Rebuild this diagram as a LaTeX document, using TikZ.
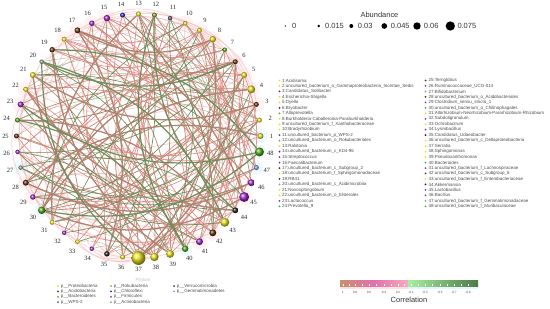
\documentclass[tikz,border=0pt]{standalone}
\usepackage{fontspec}
\setmainfont{Liberation Serif}
\newfontfamily\legfont{Liberation Sans}
\usetikzlibrary{positioning}
\pgfdeclarelayer{background}
\pgfsetlayers{background,main}
\definecolor{cProteo}{HTML}{E8E21E}
\definecolor{cAcido}{HTML}{5A2C0C}
\definecolor{cBacte}{HTML}{4EAA18}
\definecolor{cWps}{HTML}{4C5878}
\definecolor{cRoku}{HTML}{8E9628}
\definecolor{cChloro}{HTML}{2A1EC8}
\definecolor{cFirmi}{HTML}{9A28C8}
\definecolor{cActino}{HTML}{86A086}
\definecolor{cVerru}{HTML}{1E1A14}
\definecolor{cGemma}{HTML}{6E9ED8}
\definecolor{eBrown}{HTML}{C4907C}
\definecolor{eSalmon}{HTML}{EC8C8C}
\definecolor{ePink}{HTML}{F4BCBC}
\definecolor{eGreen}{HTML}{6E8C5A}
\definecolor{eGrey}{HTML}{AAB89C}
\tikzset{otu/.style={circle, inner sep=0pt, shading=ball},
         proteo/.style={otu, ball color=cProteo},
         acido/.style={otu, ball color=cAcido},
         bacte/.style={otu, ball color=cBacte},
         wps/.style={otu, ball color=cWps},
         roku/.style={otu, ball color=cRoku},
         chloro/.style={otu, ball color=cChloro},
         firmi/.style={otu, ball color=cFirmi},
         actino/.style={otu, ball color=cActino},
         verru/.style={otu, ball color=cVerru},
         gemma/.style={otu, ball color=cGemma},
         numlbl/.style={font=\fontsize{6.5}{7}\selectfont, text=black!85, inner sep=0pt},
         leg/.style={font=\legfont\fontsize{4.5}{5}\selectfont, text=black!70, anchor=west, inner sep=0pt},
         legdot/.style={circle, inner sep=0pt, minimum size=2pt},
         absdot/.style={circle, fill=black, inner sep=0pt},
         abstxt/.style={font=\legfont\fontsize{7.5}{8}\selectfont, text=black!80, anchor=west, inner sep=0pt},
         ticktxt/.style={font=\legfont\fontsize{3.2}{4}\selectfont, text=black!70, inner sep=0pt},
         ebrown/.style={draw=eBrown, line width=0.8},
         ebrownthick/.style={draw=eBrown!90!black, line width=1.3},
         esalmon/.style={draw=eSalmon, line width=0.7},
         epink/.style={draw=ePink, line width=0.9, opacity=0.6},
         egreen/.style={draw=eGreen, line width=0.65},
         egreenthick/.style={draw=eGreen, line width=1.2},
         egrey/.style={draw=eGrey, line width=0.45}}
\begin{document}
\begin{tikzpicture}[x=1bp, y=1bp]
\useasboundingbox (0,0) rectangle (550,308);

\begin{scope}[shift={(138.5,172)}]
\coordinate (ctr) at (0,0);
\node[proteo, minimum size=6] (n1) at (0:122) {};
\node[proteo, minimum size=5] (n2) at (7.5:122) {};
\node[acido, minimum size=5] (n3) at (15:122) {};
\node[proteo, minimum size=8] (n4) at (22.5:122) {};
\node[proteo, minimum size=6] (n5) at (30:122) {};
\node[acido, minimum size=5] (n6) at (37.5:122) {};
\node[bacte, minimum size=4.5] (n7) at (45:122) {};
\node[proteo, minimum size=6.5] (n8) at (52.5:122) {};
\node[proteo, minimum size=5] (n9) at (60:122) {};
\node[proteo, minimum size=4.5] (n10) at (67.5:122) {};
\node[wps, minimum size=4.5] (n11) at (75:122) {};
\node[roku, minimum size=5] (n12) at (82.5:122) {};
\node[proteo, minimum size=5] (n13) at (90:122) {};
\node[chloro, minimum size=5] (n14) at (97.5:122) {};
\node[firmi, minimum size=6.5] (n15) at (105:122) {};
\node[firmi, minimum size=5.5] (n16) at (112.5:122) {};
\node[acido, minimum size=6] (n17) at (120:122) {};
\node[proteo, minimum size=5] (n18) at (127.5:122) {};
\node[acido, minimum size=5.5] (n19) at (135:122) {};
\node[actino, minimum size=4.5] (n20) at (142.5:122) {};
\node[proteo, minimum size=6] (n21) at (150:122) {};
\node[proteo, minimum size=5] (n22) at (157.5:122) {};
\node[firmi, minimum size=6] (n23) at (165:122) {};
\node[bacte, minimum size=5] (n24) at (172.5:122) {};
\node[acido, minimum size=5] (n25) at (180:122) {};
\node[firmi, minimum size=4.5] (n26) at (187.5:122) {};
\node[actino, minimum size=4.5] (n27) at (195:122) {};
\node[acido, minimum size=6] (n28) at (202.5:122) {};
\node[firmi, minimum size=5.5] (n29) at (210:122) {};
\node[bacte, minimum size=7.5] (n30) at (217.5:122) {};
\node[proteo, minimum size=5] (n31) at (225:122) {};
\node[firmi, minimum size=4.5] (n32) at (232.5:122) {};
\node[proteo, minimum size=4.5] (n33) at (240:122) {};
\node[firmi, minimum size=4.5] (n34) at (247.5:122) {};
\node[verru, minimum size=5.5] (n35) at (255:122) {};
\node[proteo, minimum size=5] (n36) at (262.5:122) {};
\node[proteo, minimum size=14] (n37) at (270:122) {};
\node[proteo, minimum size=8.5] (n38) at (277.5:122) {};
\node[proteo, minimum size=8] (n39) at (285:122) {};
\node[bacte, minimum size=6.5] (n40) at (292.5:122) {};
\node[firmi, minimum size=7] (n41) at (300:122) {};
\node[acido, minimum size=7] (n42) at (307.5:122) {};
\node[proteo, minimum size=9] (n43) at (315:122) {};
\node[verru, minimum size=6] (n44) at (322.5:122) {};
\node[firmi, minimum size=10] (n45) at (330:122) {};
\node[firmi, minimum size=7] (n46) at (337.5:122) {};
\node[gemma, minimum size=5] (n47) at (345:122) {};
\node[bacte, minimum size=9] (n48) at (352.5:122) {};

\foreach \k in {1,...,48}
  \node[numlbl] (l\k) at ({(\k-1)*7.5}:133) {\k};
\end{scope}

\begin{pgfonlayer}{background}
\foreach \k in {17,18,15,36,35,42,41,45,8,4,3,28,29,23,9,22,10,16,6,5}
  \fill[pink!60, opacity=0.35] (n\k) circle (8);
\foreach \k in {30,48,47,1,27,40}
  \fill[cyan!25, opacity=0.3] (n\k) circle (7);

\foreach \a/\b in {20/9, 21/8, 22/5, 24/3, 26/1, 27/47, 28/44, 29/42, 31/40, 32/38, 33/37, 34/36, 11/45, 12/46, 10/47, 9/48, 8/2, 7/43, 14/39, 19/35, 23/45, 26/43, 27/41, 25/40, 16/34, 15/33, 17/32, 18/31, 20/30, 10/24, 6/20, 5/23, 4/25, 2/27, 9/17, 8/18, 7/19, 10/16, 5/15, 6/14, 3/9, 4/11, 23/29, 21/31, 22/33}
  \draw[epink] (n\a) to[bend right=30] (n\b);
\foreach \a/\b in {22/2, 24/1, 25/3, 27/45, 28/43, 29/41, 31/39, 33/36, 34/37, 35/38, 10/41, 11/42, 12/43, 13/44, 16/47, 18/48, 19/1, 20/2, 21/4, 22/7}
  \draw[egrey] (n\a) to[bend left=25] (n\b);
\foreach \a/\b in {18/9, 17/10, 23/1, 16/7, 15/5, 38/8, 39/6, 36/4, 37/3, 42/10, 41/9, 34/14, 33/13, 29/2, 26/46, 24/45, 22/48, 25/43, 19/41, 28/47, 31/44, 32/12, 35/7, 40/16, 44/18, 46/22, 47/15, 6/29, 3/35, 2/34, 17/4, 18/6, 15/37, 16/38, 13/42, 14/40, 19/8, 43/5, 42/7}
  \draw[esalmon] (n\a) to[bend right=28] (n\b);
\foreach \a/\b in {37/5, 37/13, 15/41, 16/42, 25/2, 18/43, 36/15, 38/9, 39/17, 46/21, 41/12, 42/16, 31/6, 29/5, 33/22, 9/36, 10/35, 8/31, 4/28, 5/26, 37/20, 38/18, 39/13, 30/3, 30/5, 44/19, 42/14, 12/37, 11/40, 7/29, 3/23, 2/24, 36/21, 40/9, 39/23, 38/25, 45/15, 46/13, 44/10}
  \draw[ebrown] (n\a) to[bend right=25] (n\b);
\foreach \a/\b in {20/40, 47/27, 7/30, 11/38, 2/29, 14/42, 26/39, 30/10, 27/44, 21/47, 32/6, 45/11, 6/26, 5/31, 4/33, 3/32, 44/23, 43/26, 46/27, 41/19, 9/28, 8/24, 13/35}
  \draw[egreen] (n\a) to[bend left=25] (n\b);
\foreach \a/\b in {17/8, 6/30, 37/6, 30/45, 28/46, 37/8, 45/17, 13/31, 21/38, 22/44, 19/39, 4/30, 1/28, 35/17, 43/24, 21/3}
  \draw[ebrownthick] (n\a) to[bend right=25] (n\b);
\foreach \a/\b in {20/6, 23/48, 30/48, 20/37, 12/44, 43/20, 12/40, 48/19, 40/24}
  \draw[egreenthick] (n\a) to[bend right=25] (n\b);
\end{pgfonlayer}

\node[abstxt, anchor=center] (abstitle) at (379.5,293.5) {Abundance};
\node[absdot, minimum size=1.4] (a1) at (285.3,282) {};
\node[absdot, minimum size=2.6] (a2) at (318.7,282) {};
\node[absdot, minimum size=4] (a3) at (351.3,282) {};
\node[absdot, minimum size=5.7] (a4) at (384.3,282) {};
\node[absdot, minimum size=7.4] (a5) at (417,282) {};
\node[absdot, minimum size=9.3] (a6) at (450.3,282) {};
\node[abstxt] (at1) at (292,282) {0};
\node[abstxt] (at2) at (325,282) {0.015};
\node[abstxt] (at3) at (357.7,282) {0.03};
\node[abstxt] (at4) at (390.7,282) {0.045};
\node[abstxt] (at5) at (423.7,282) {0.06};
\node[abstxt] (at6) at (457.3,282) {0.075};

\foreach \k/\c/\t [count=\i from 0] in {1/cProteo/Acidisoma, 2/cProteo/uncultured\_bacterium\_o\_Gammaproteobacteria\_Incertae\_Sedis, 3/cAcido/Candidatus\_Solibacter, 4/cProteo/Escherichia-Shigella, 5/cProteo/Dyella, 6/cAcido/Bryobacter, 7/cBacte/Alloprevotella, 8/cProteo/Burkholderia-Caballeronia-Paraburkholderia, 9/cProteo/uncultured\_bacterium\_f\_Xanthobacteraceae, 10/cProteo/Bradyrhizobium, 11/cWps/uncultured\_bacterium\_p\_WPS-2, 12/cRoku/uncultured\_bacterium\_o\_Rokubacteriales, 13/cProteo/Ralstonia, 14/cChloro/uncultured\_bacterium\_c\_KD4-96, 15/cFirmi/Streptococcus, 16/cFirmi/Faecalibacterium, 17/cAcido/uncultured\_bacterium\_c\_Subgroup\_2, 18/cProteo/uncultured\_bacterium\_f\_Sphingomonadaceae, 19/cAcido/RB41, 20/cActino/uncultured\_bacterium\_c\_Acidimicrobiia, 21/cProteo/Novosphingobium, 22/cProteo/uncultured\_bacterium\_o\_Elsterales, 23/cFirmi/Lactococcus, 24/cBacte/Prevotella\_9}
{
  \node[legdot, fill=\c] (d\k) at (279.5,227.5-5.47*\i) {};
  \node[leg] (t\k) at (282,227.5-5.47*\i) {\k:\t};
}
\foreach \k/\c/\t [count=\i from 0] in {25/cAcido/Terriglobus, 26/cFirmi/Ruminococcaceae\_UCG-014, 27/cActino/Bifidobacterium, 28/cAcido/uncultured\_bacterium\_o\_Acidobacteriales, 29/cFirmi/Clostridium\_sensu\_stricto\_1, 30/cBacte/uncultured\_bacterium\_o\_Chitinophagales, 31/cProteo/Allorhizobium-Neorhizobium-Pararhizobium-Rhizobium, 32/cFirmi/Subdoligranulum, 33/cProteo/Ochrobactrum, 34/cFirmi/Lysinibacillus, 35/cVerru/Candidatus\_Udaeobacter, 36/cProteo/uncultured\_bacterium\_c\_Deltaproteobacteria, 37/cProteo/Serratia, 38/cProteo/Sphingomonas, 39/cProteo/Pseudoxanthomonas, 40/cBacte/Bacteroides, 41/cFirmi/uncultured\_bacterium\_f\_Lachnospiraceae, 42/cAcido/uncultured\_bacterium\_c\_Subgroup\_6, 43/cProteo/uncultured\_bacterium\_f\_Enterobacteriaceae, 44/cVerru/Akkermansia, 45/cFirmi/Lactobacillus, 46/cFirmi/Bacillus, 47/cGemma/uncultured\_bacterium\_f\_Gemmatimonadaceae, 48/cBacte/uncultured\_bacterium\_f\_Muribaculaceae}
{
  \node[legdot, fill=\c] (d\k) at (425.5,227.5-5.47*\i) {};
  \node[leg] (t\k) at (428.5,227.5-5.47*\i) {\k:\t};
}

\node[leg, text=black!25, anchor=center] (phylum) at (143,28) {Phylum};
\node[legdot, fill=cProteo] (p1) at (58,22) {};
\node[leg, right=1.5 of p1] (pt1) {p\_\_Proteobacteria};
\node[legdot, fill=cAcido] (p2) at (58,16.6) {};
\node[leg, right=1.5 of p2] (pt2) {p\_\_Acidobacteria};
\node[legdot, fill=cBacte] (p3) at (58,11.2) {};
\node[leg, right=1.5 of p3] (pt3) {p\_\_Bacteroidetes};
\node[legdot, fill=cWps] (p4) at (58,5.8) {};
\node[leg, right=1.5 of p4] (pt4) {p\_\_WPS-2};
\node[legdot, fill=cRoku] (p5) at (111,22) {};
\node[leg, right=1.5 of p5] (pt5) {p\_\_Rokubacteria};
\node[legdot, fill=cChloro] (p6) at (111,16.6) {};
\node[leg, right=1.5 of p6] (pt6) {p\_\_Chloroflexi};
\node[legdot, fill=cFirmi] (p7) at (111,11.2) {};
\node[leg, right=1.5 of p7] (pt7) {p\_\_Firmicutes};
\node[legdot, fill=cActino] (p8) at (111,5.8) {};
\node[leg, right=1.5 of p8] (pt8) {p\_\_Actinobacteria};
\node[legdot, fill=cVerru] (p9) at (174,22) {};
\node[leg, right=1.5 of p9] (pt9) {p\_\_Verrucomicrobia};
\node[legdot, fill=cGemma] (p10) at (174,16.6) {};
\node[leg, right=1.5 of p10] (pt10) {p\_\_Gemmatimonadetes};

\fill[pink!50] (340,19.5) rectangle (408,22);
\fill[cyan!12] (408,19.5) rectangle (478,22);
\shade[left color={rgb,255:red,200;green,144;blue,106}, right color={rgb,255:red,226;green,112;blue,172}] (340,22) rectangle (374,28);
\shade[left color={rgb,255:red,226;green,112;blue,172}, right color={rgb,255:red,246;green,170;blue,190}] (374,22) rectangle (408,28);
\shade[left color={rgb,255:red,168;green,240;blue,160}, right color={rgb,255:red,78;green,122;blue,69}] (408,22) rectangle (478,28);
\foreach \x in {342.7,349,355,362,369,376.5,384,391,398,404.5,411,418,425,432.5,440,447,454,461,468}
  \draw[white, line width=0.4] (\x,22) -- (\x,24.5);
\foreach \x/\v in {342.7/1, 355/0.8, 369/0.6, 384/0.4, 398/0.2, 411/-0.1, 425/-0.3, 440/-0.5, 454/-0.7, 468/-0.9}
  \node[ticktxt] at (\x,15.3) {\v};
\node[abstxt, anchor=center] (corr) at (409,8) {Correlation};
\end{tikzpicture}
\end{document}
